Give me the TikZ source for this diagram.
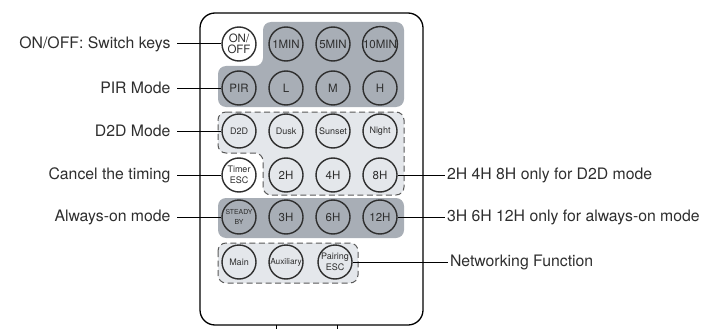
\documentclass[tikz,border=0pt]{standalone}
\usepackage{fontspec}
\setmainfont{TeX Gyre Heros}
\usetikzlibrary{positioning,calc}
\definecolor{panelDark}{HTML}{A8AEB6}
\definecolor{panelLight}{HTML}{E4E7EB}
\definecolor{inkGray}{HTML}{2E2E2E}
\tikzstyle{key}     =[draw=inkGray,circle,line width=1.4pt,minimum size=34pt,inner sep=0pt,align=center,text=inkGray,font=\fontsize{11.5}{10.5}\selectfont]
\tikzstyle{whiteKey}=[key,fill=white]
\tikzstyle{smallKey}=[font=\fontsize{9}{11}\selectfont]
\tikzstyle{leftLabel} =[anchor=east,inner xsep=6pt,inner ysep=0pt,text=inkGray,font=\fontsize{15.8}{17}\selectfont]
\tikzstyle{rightLabel}=[anchor=west,inner xsep=1.5pt,inner ysep=0pt,text=inkGray,font=\fontsize{15.8}{17}\selectfont]
\tikzstyle{panel}   =[rounded corners=8pt]
\tikzstyle{dashPanel}=[panel,fill=panelLight,draw=black!65,line width=1pt,dash pattern=on 6pt off 3.5pt]
\begin{document}
\begin{tikzpicture}[x=1pt,y=-1pt,line width=1pt]
      \useasboundingbox (0,0) rectangle (709,329);
      % remote body
      \draw [line width=1.3pt,rounded corners=15pt] (200,13) rectangle (423,325);
      \draw [line width=1pt] (276,325) -- (276,329) (337,325) -- (337,329);
      % key groups
      \fill [panel,panelDark] (263,22) -- (404,22) -- (404,107) -- (218,107) -- (218,66) -- (263,66) -- cycle;
      \draw [dashPanel] (218,112) -- (404,112) -- (404,195) -- (263,195) -- (263,153) -- (218,153) -- cycle;
      \fill [panel,panelDark] (218,198) rectangle (404,238);
      \draw [dashPanel] (218,243) rectangle (358,283);
      % keys
      \node [whiteKey] (onoff) at (239,44) {ON/\\OFF};
      \node [key] (min1)  at (286,44) {1MIN};
      \node [key] (min5)  at (333,44) {5MIN};
      \node [key] (min10) at (380,44) {10MIN};
      \node [key] (pir)   at (239,88) {PIR};
      \node [key] (low)   at (286,88) {L};
      \node [key] (mid)   at (333,88) {M};
      \node [key] (high)  at (380,88) {H};
      \node [key,smallKey] (d2d)    at (239,131) {D2D};
      \node [key,smallKey] (dusk)   at (286,131) {Dusk};
      \node [key,smallKey] (sunset) at (333,131) {Sunset};
      \node [key,smallKey] (night)  at (380,131) {Night};
      \node [whiteKey,smallKey] (timer) at (239,175) {Timer\\ESC};
      \node [key] (hour2) at (286,175) {2H};
      \node [key] (hour4) at (333,175) {4H};
      \node [key] (hour8) at (380,175) {8H};
      \node [key,font=\fontsize{6.9}{9.5}\selectfont] (steady) at (239,217) {STEADY\\BY};
      \node [key] (hour3)  at (286,217) {3H};
      \node [key] (hour6)  at (333,217) {6H};
      \node [key] (hour12) at (380,217) {12H};
      \node [key,smallKey] (main)    at (239,262) {Main};
      \node [key,font=\fontsize{8.3}{10}\selectfont] (aux) at (286,262) {Auxiliary};
      \node [key,smallKey] (pairing) at (335,262) {Pairing\\ESC};
      % labels
      \node [leftLabel] (lOnoff)  at (177,44)  {ON/OFF: Switch keys};
      \node [leftLabel] (lPir)    at (177,88)  {PIR Mode};
      \node [leftLabel] (lD2d)    at (177,131) {D2D Mode};
      \node [leftLabel] (lTimer)  at (177,175) {Cancel the timing};
      \node [leftLabel] (lSteady) at (177,217) {Always-on mode};
      \node [rightLabel] (lHour8)  at (445,175) {2H 4H 8H only for D2D mode};
      \node [rightLabel] (lHour12) at (445,217) {3H 6H 12H only for always-on mode};
      \node [rightLabel] (lNet)    at (448,262) {Networking Function};
      \draw (lOnoff.east)  -- (onoff.west);
      \draw (lPir.east)    -- (pir.west);
      \draw (lD2d.east)    -- (d2d.west);
      \draw (lTimer.east)  -- (timer.west);
      \draw (lSteady.east) -- (steady.west);
      \draw (hour8.east)   -- (lHour8.west);
      \draw (hour12.east)  -- (lHour12.west);
      \draw (pairing.east) -- (lNet.west);
    \end{tikzpicture}
\end{document}
